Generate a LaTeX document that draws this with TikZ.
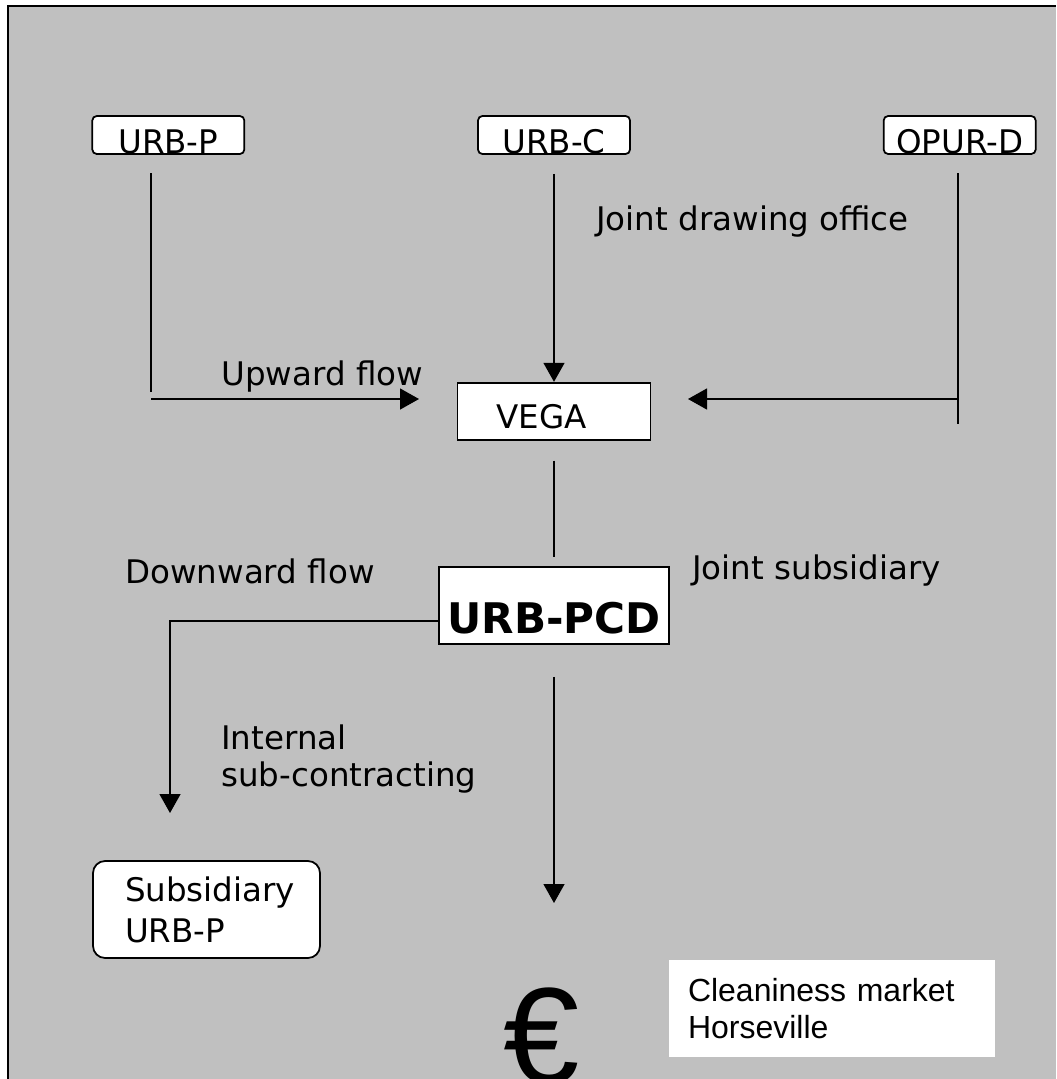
\documentclass[tikz,border=0pt]{standalone}
\usepackage{fontspec}
\setmainfont{DejaVu Sans}
\newfontfamily\arialfont{Liberation Sans}
\usepackage{xcolor}
\usepackage{tikz}
\usetikzlibrary{positioning, arrows.meta}
\definecolor{bggray}{HTML}{C0C0C0}

\begin{document}
\begin{tikzpicture}[
    x=0.02cm, y=-0.02cm,
    every node/.style={font=\fontsize{18.5}{22}\selectfont},
    topbox/.style={draw, fill=white, rounded corners=2.5pt, line width=1pt, minimum width=3.04cm, minimum height=0.76cm, inner sep=0pt, text height=0.72cm, text depth=0pt},
    midbox/.style={draw, fill=white, line width=1pt, inner sep=0pt, text depth=0pt},
    subbox/.style={draw, fill=white, rounded corners=0.24cm, line width=1pt, minimum width=4.54cm, minimum height=1.94cm, text width=3.26cm, align=left, inner xsep=0.64cm, inner ysep=0pt, font=\fontsize{18.5}{23.2}\selectfont},
    mktbox/.style={fill=white, minimum width=6.52cm, minimum height=1.94cm, text width=5.76cm, align=left, inner xsep=0.38cm, inner ysep=0pt, font=\arialfont\fontsize{18.2}{21.5}\selectfont},
    lbl/.style={anchor=west, inner sep=0pt},
    line/.style={line width=0.75pt},
    arrow/.style={line width=0.75pt, -{Triangle[length=0.38cm, width=0.42cm]}},
  ]

  % ---- Frame ----
  \useasboundingbox (0,0) rectangle (1056,1079);
  \fill[white] (0,0) rectangle (1056,1079);
  \fill[bggray] (8,6) rectangle (1056,1079);
  \draw[line width=1.4pt] (8,1079) -- (8,6) -- (1056,6);

  % ---- Partners ----
  \node[topbox] (urbc) at (554,135) {URB-C};
  \node[topbox, left=4.64cm of urbc] (urbp) {URB-P};
  \node[topbox, right=5.04cm of urbc] (opurd) {OPUR-D};

  % ---- Drawing office and subsidiary ----
  \node[midbox, below=4.54cm of urbc, minimum width=3.86cm, minimum height=1.14cm, text height=0.7cm, text width=2.3cm, align=left, inner xsep=0.78cm] (vega) {VEGA};
  \node[midbox, below=2.51cm of vega, minimum width=4.6cm, minimum height=1.54cm, text height=1.14cm, font=\fontsize{24}{28}\selectfont\bfseries] (urbpcd) {URB-PCD};

  % ---- Bottom ----
  \node[subbox] (subp) at (206.5,909.5) {Subsidiary\\URB-P};
  \node[mktbox] (market) at (832,1008.5) {Cleaniness market\\Horseville};
  \node[anchor=north, inner sep=0pt, font=\arialfont\fontsize{78}{80}\selectfont] (eur) at (542,987) {€};

  % ---- Labels ----
  \node[lbl] (jdo) at (596,222) {Joint drawing office};
  \node[lbl] (upf) at (221,377) {Upward flow};
  \node[lbl] (dnf) at (125,571) {Downward flow};
  \node[lbl] (jsub) at (692,571) {Joint subsidiary};
  \node[lbl, align=left, font=\fontsize{18.5}{21.5}\selectfont] (isc) at (221,759) {Internal\\sub-contracting};

  % ---- Coordinates ----
  \coordinate (ptop) at (151,173);
  \coordinate (pbot) at (151,392);
  \coordinate (pturn) at (151,399);
  \coordinate (ptip) at (419,399);
  \coordinate (dtop) at (958,173);
  \coordinate (dbot) at (958,424);
  \coordinate (dturn) at (958,399);
  \coordinate (dtip) at (688,399);
  \coordinate (cleft) at (438,621);
  \coordinate (cturn) at (170,621);
  \coordinate (ctip) at (170,813);
  \coordinate (mtip) at (554,903);

  % ---- Arrows ----
  \draw[line] (ptop) -- (pbot);
  \draw[arrow] (pturn) -- (ptip);
  \draw[arrow] ([yshift=-0.38cm]urbc.south) -- (vega.north);
  \draw[line] (dtop) -- (dbot);
  \draw[arrow] (dturn) -- (dtip);
  \draw[line] ([yshift=-0.4cm]vega.south) -- ([yshift=0.19cm]urbpcd.north);
  \draw[arrow] (cleft) -- (cturn) -- (ctip);
  \draw[arrow] ([yshift=-0.64cm]urbpcd.south) -- (mtip);

\end{tikzpicture}
\end{document}
